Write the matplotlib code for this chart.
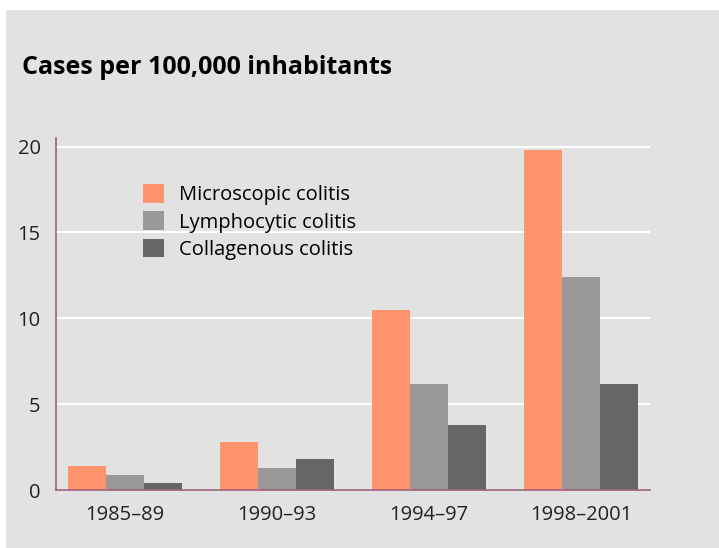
import numpy as np
import matplotlib.pyplot as plt
from matplotlib.patches import Rectangle

plt.rcParams['font.family'] = ['Open Sans', 'DejaVu Sans']

periods = ["1985\u201389", "1990\u201393", "1994\u201397", "1998\u20132001"]
microscopic = [1.4, 2.8, 10.5, 19.8]
lymphocytic = [0.9, 1.3, 6.2, 12.4]
collagenous = [0.4, 1.8, 3.8, 6.2]
series_names = ["Microscopic colitis", "Lymphocytic colitis", "Collagenous colitis"]
yticks = [0, 5, 10, 15, 20]

BG = "#e1e2e1"
COLORS = ["#ff936d", "#999999", "#666666"]
SPINE = "#a06078"

W, H = 719, 548
fig = plt.figure(figsize=(W / 100, H / 100), dpi=100, facecolor="white")
# grey panel with a thin white margin at top and left
fig.patches.append(Rectangle((6 / W, 0), 1, 1 - 10 / H, transform=fig.transFigure,
                             facecolor=BG, edgecolor="none", zorder=-10))

ax = fig.add_axes([56 / W, 1 - 490 / H, (650 - 56) / W, (490 - 138) / H])
ax.set_facecolor(BG)
ax.set_zorder(1)

x = np.arange(len(periods))
width = 0.25
for i, (vals, name) in enumerate(zip([microscopic, lymphocytic, collagenous], series_names)):
    ax.bar(x + (i - 1) * width, vals, width, color=COLORS[i], label=name, zorder=3)

ax.set_xlim(-0.454, 3.454)
ax.set_ylim(0, 20.5)
ax.set_yticks(yticks)
ax.set_xticks(x)
ax.set_xticklabels(periods)
ax.grid(axis="y", color="white", lw=1.5, zorder=1)
ax.tick_params(length=0, labelsize=14.5, colors="#222222")
ax.tick_params(axis="y", pad=11)
ax.tick_params(axis="x", pad=11)

for s in ["top", "right"]:
    ax.spines[s].set_visible(False)
for s in ["left", "bottom"]:
    ax.spines[s].set_color(SPINE)
    ax.spines[s].set_linewidth(1.2)
    ax.spines[s].set_zorder(4)

ax.legend(loc="upper left", bbox_to_anchor=(0.147, 0.869), frameon=False, fontsize=14.5,
          handlelength=1.05, handleheight=1.05, labelspacing=0.3, handletextpad=0.7,
          borderaxespad=0, borderpad=0)

fig.text(22 / W, 1 - 74 / H, "Cases per 100,000 inhabitants", fontsize=18,
         fontweight="bold", color="black", ha="left", va="baseline")

fig.savefig("out.png", dpi=100, facecolor=fig.get_facecolor())
